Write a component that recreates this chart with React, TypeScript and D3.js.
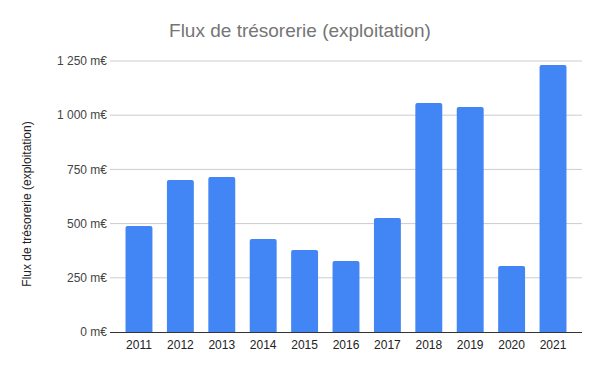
import React from "react";
import * as d3 from "d3";

const years = ["2011", "2012", "2013", "2014", "2015", "2016", "2017", "2018", "2019", "2020", "2021"];
const values = [489, 701, 715, 429, 378, 328, 526, 1056, 1038, 304, 1232];
const yTicks = [0, 250, 500, 750, 1000, 1250];
const title = "Flux de trésorerie (exploitation)";
const yTitle = "Flux de trésorerie (exploitation)";

const W = 600;
const H = 371;
const left = 110;
const right = 582;
const top = 61;
const bottom = 332;

const fmt = (v: number) => {
  const s = d3.format(",")(v).replace(/,/g, "\u202F");
  return s.replace(/\u202F/g, " ") + " m€";
};

export default function App() {
  const x = d3.scaleBand<string>().domain(years).range([left, right]).paddingInner(0.35).paddingOuter(0.375);
  const y = d3.scaleLinear().domain([0, 1250]).range([bottom, top]);
  const font = "Arial, 'Liberation Sans', sans-serif";
  const r = 2;
  return (
    <svg width={W} height={H} style={{ position: "absolute", left: 0, top: 0, background: "#fff" }} fontFamily={font}>
      <rect width={W} height={H} fill="#fff" />
      <text x={300} y={37} textAnchor="middle" fontSize={19} fill="#757575">{title}</text>
      <text transform={`translate(31,204) rotate(-90)`} textAnchor="middle" fontSize={12} fill="#222">{yTitle}</text>
      {yTicks.map((t) => (
        <g key={t}>
          {t !== 0 && <line x1={left} x2={right} y1={y(t)} y2={y(t)} stroke="#cccccc" strokeWidth={1} />}
          <text x={107} y={y(t)} dy="0.35em" textAnchor="end" fontSize={12} fill="#444">{fmt(t)}</text>
        </g>
      ))}
      {years.map((yr, i) => {
        const x0 = x(yr)!;
        const w = x.bandwidth();
        const yt = y(values[i]);
        const d = `M${x0},${bottom} L${x0},${yt + r} Q${x0},${yt} ${x0 + r},${yt} L${x0 + w - r},${yt} Q${x0 + w},${yt} ${x0 + w},${yt + r} L${x0 + w},${bottom} Z`;
        return <path key={yr} d={d} fill="#4285F4" />;
      })}
      <line x1={left} x2={right} y1={bottom + 0.5} y2={bottom + 0.5} stroke="#333" strokeWidth={1} />
      {years.map((yr) => (
        <text key={yr} x={x(yr)! + x.bandwidth() / 2} y={349} textAnchor="middle" fontSize={12} fill="#222">{yr}</text>
      ))}
    </svg>
  );
}
